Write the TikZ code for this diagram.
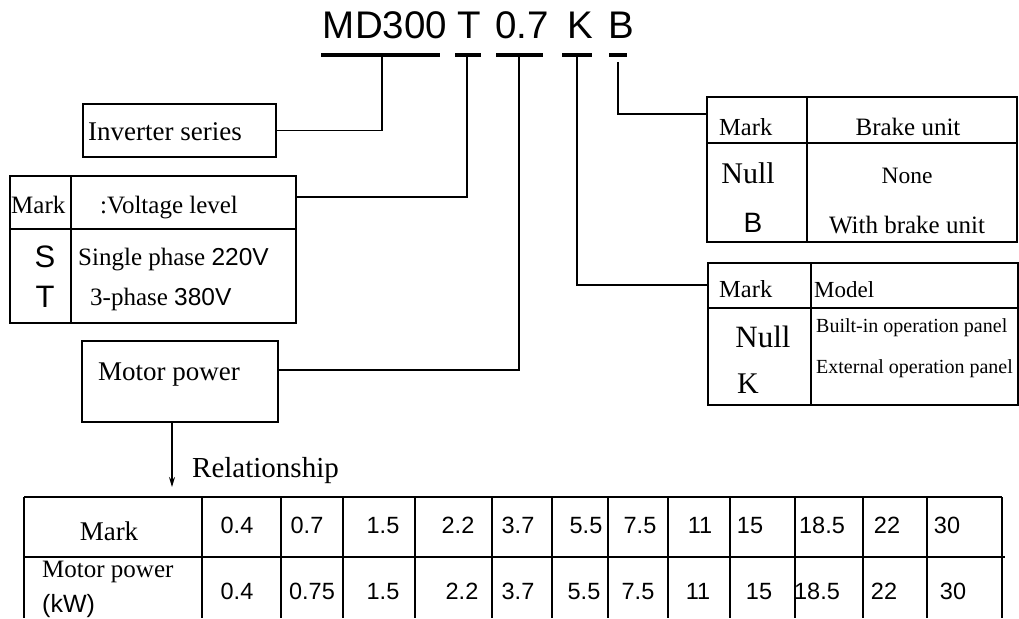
\documentclass[tikz,border=0pt]{standalone}
\usepackage{fontspec}
\setmainfont{Liberation Serif}
\newfontfamily\arialf{Liberation Sans}
\newcommand\fsz[1]{\fontsize{#1}{#1}\selectfont}
\usetikzlibrary{arrows.meta}
\begin{document}
\begin{tikzpicture}[x=1pt,y=-1pt,
  box/.style={draw,line width=1.5pt,inner sep=0pt,anchor=north west},
  conn/.style={line width=1.4pt},
  grid/.style={line width=1.4pt},
  uline/.style={line width=3.5pt},
  txt/.style={inner sep=0pt,anchor=base},
  txtl/.style={inner sep=0pt,anchor=base west},
  ar/.style={font=\arialf\fsz{23.5}},
  ]
\useasboundingbox (0,0) rectangle (1019,618);

% ---- title ----
\node[txt,font=\arialf\fsz{38.5}] (tMD) at (385,38) {MD300};
\node[txt,font=\arialf\fsz{38.5}] (tT) at (469,38) {T};
\node[txt,font=\arialf\fsz{38.5}] (t07) at (522,38) {0.7};
\node[txt,font=\arialf\fsz{38.5}] (tK) at (580,38) {K};
\node[txt,font=\arialf\fsz{38.5}] (tB) at (621,38) {B};
\draw[uline] (321,55) -- (440,55);
\draw[uline] (455,55) -- (481,55);
\draw[uline] (496,55) -- (543,55);
\draw[uline] (562,55) -- (592,55);
\draw[uline] (609,55) -- (627,55);
\coordinate (uMD) at (382,55);
\coordinate (uT) at (467,55);
\coordinate (u07) at (519,55);
\coordinate (uK) at (577,55);
\coordinate (uB) at (618,62);

% ---- inverter series ----
\node[box,minimum width=193pt,minimum height=53pt] (inv) at (82,103) {};
\node[txtl,font=\fsz{27}] (invt) at (88,140) {Inverter series};
\draw[conn] (uMD) |- (inv.east);

% ---- voltage table ----
\node[box,minimum width=286pt,minimum height=147pt] (volt) at (9,175) {};
\draw[grid] (71,175) -- (71,322);
\draw[grid] (9,229) -- (295,229);
\node[txtl,font=\fsz{25}] (vm) at (11,213) {Mark};
\node[txtl,font=\fsz{25}] (vh) at (100,213) {:Voltage level};
\node[txt,font=\arialf\fsz{31}] (vS) at (45,267) {S};
\node[txt,font=\arialf\fsz{31}] (vT) at (45,307) {T};
\node[txtl,font=\fsz{25}] (vs1) at (78,265) {Single phase {\arialf\fsz{24.5}220V}};
\node[txtl,font=\fsz{25}] (vs2) at (90,305) {3-phase {\arialf\fsz{24.5}380V}};
\draw[conn] (uT) |- ([yshift=-22pt]volt.north east);

% ---- motor power ----
\node[box,minimum width=196pt,minimum height=81pt] (mot) at (81,340) {};
\node[txtl,font=\fsz{27}] (mott) at (98,380) {Motor power};
\draw[conn] (u07) |- ([yshift=-30pt]mot.north east);
\coordinate (arrtip) at (172,487);
\draw[conn,-{Stealth[length=10pt,width=6pt]}] (mot.south -| arrtip) -- (arrtip);
\node[txtl,font=\fsz{29}] (rel) at (192,477) {Relationship};

% ---- brake table ----
\node[box,minimum width=310pt,minimum height=145pt] (brake) at (706,96) {};
\draw[grid] (807,96) -- (807,241);
\draw[grid] (706,143) -- (1016,143);
\node[txtl,font=\fsz{24.5}] (bm) at (719,135) {Mark};
\node[txt,font=\fsz{25}] (bh) at (908,135) {Brake unit};
\node[txt,font=\fsz{30}] (bn) at (748,183) {Null};
\node[txt,font=\fsz{23.5}] (bn2) at (907,183) {None};
\node[txt,font=\arialf\fsz{28}] (bb) at (753,232) {B};
\node[txt,font=\fsz{25}] (bb2) at (907,233) {With brake unit};
\draw[conn] (uB) |- ([yshift=-18pt]brake.north west);

% ---- model table ----
\node[box,minimum width=310pt,minimum height=142pt] (model) at (707,262) {};
\draw[grid] (811,262) -- (811,404);
\draw[grid] (707,308) -- (1017,308);
\node[txtl,font=\fsz{24.5}] (mm) at (719,297) {Mark};
\node[txtl,font=\fsz{23}] (mh) at (814,297) {Model};
\node[txt,font=\fsz{31}] (mn) at (763,347) {Null};
\node[txtl,font=\fsz{30}] (mk) at (737,393) {K};
\node[txtl,font=\fsz{20}] (mn2) at (816,332) {Built-in operation panel};
\node[txtl,font=\fsz{20}] (mk2) at (816,373) {External operation panel};
\draw[conn] (uK) |- ([yshift=-23pt]model.north west);

% ---- bottom table ----
\draw[grid] (24,497) -- (1002,497);
\draw[grid] (24,557) -- (1005,557);
\foreach \x in {24,202,281,343,415,492,552,608,668,730,795,863,927,1002}
  \draw[grid] (\x,497) -- (\x,618);
\node[txt,font=\fsz{27}] (tm) at (109,540) {Mark};
\node[txtl,font=\fsz{25}] (tp) at (42,577) {Motor power};
\node[txtl,font=\arialf\fsz{25}] (tkw) at (42,612) {(kW)};
\foreach \c/\v in {237/0.4,307/0.7,383/1.5,458/2.2,518/3.7,586/5.5,640/7.5,700/11,750/15,822/18.5,887/22,947/30}
  \node[txt,ar] at (\c,533) {\v};
\foreach \c/\v in {237/0.4,312/0.75,383/1.5,462/2.2,518/3.7,584/5.5,638/7.5,698/11,759/15,817/18.5,884/22,953/30}
  \node[txt,ar] at (\c,599) {\v};
\end{tikzpicture}
\end{document}
